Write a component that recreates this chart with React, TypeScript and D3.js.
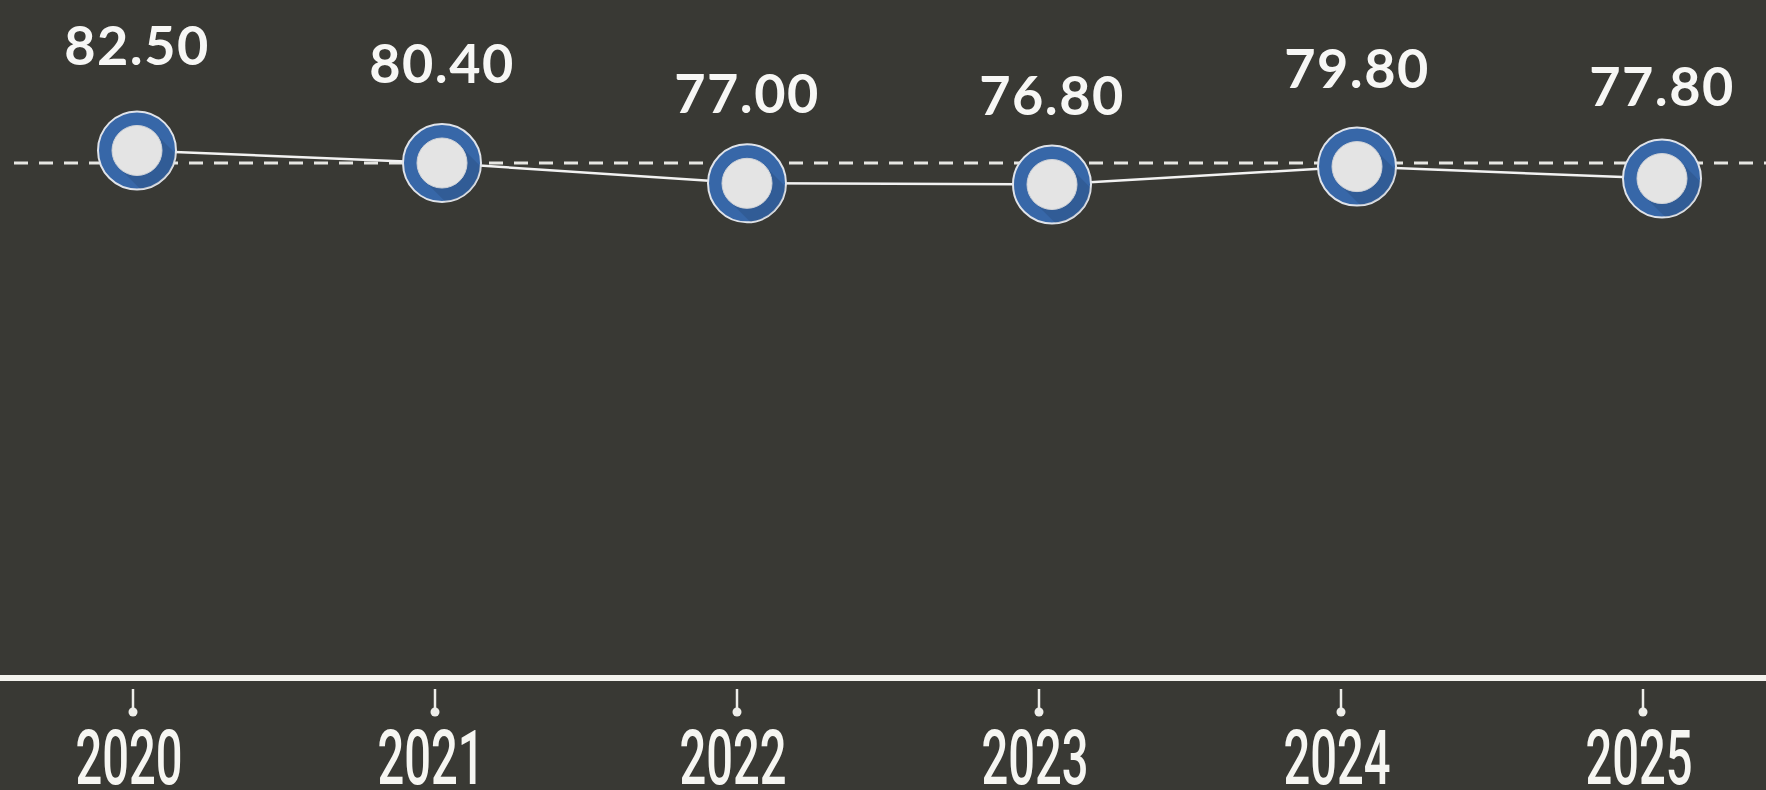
import React, { useEffect } from "react";
import * as d3 from "d3";

const years: string[] = ["2020", "2021", "2022", "2023", "2024", "2025"];
const values: number[] = [82.5, 80.4, 77.0, 76.8, 79.8, 77.8];
const valueLabels: string[] = ["82.50", "80.40", "77.00", "76.80", "79.80", "77.80"];
const referenceValue = 80.4;

const W = 1766;
const H = 790;

const BG = "#393934";
const BLUE = "#3767a8";
const LIGHT = "#e4e4e4";
const WHITE = "#f4f3ee";

export default function App() {
  useEffect(() => {
    document.body.style.margin = "0";
    document.body.style.background = BG;
  }, []);

  const xPoint = d3.scalePoint<string>().domain(years).range([137, 1662]);
  const xAxis = d3.scalePoint<string>().domain(years).range([133, 1643]);
  const yScale = d3.scaleLinear().domain([0, 100]).range([643, 46]);
  const labelScale = d3.scaleLinear().domain([0, 100]).range([789, -89]);

  const pts: [number, number][] = years.map((yr, i) => [xPoint(yr) as number, yScale(values[i])]);
  const line = d3.line<[number, number]>().x((d) => d[0]).y((d) => d[1]);

  const rOuter = 39;
  const rInner = 25;
  const axisY = 678;

  return (
    <svg
      width={W}
      height={H}
      style={{ position: "absolute", left: 0, top: 0, display: "block" }}
      xmlns="http://www.w3.org/2000/svg"
    >
      <rect x={0} y={0} width={W} height={H} fill={BG} />
      <defs>
        {pts.map((p, i) => (
          <clipPath id={`ring-${i}`} key={i}>
            <circle cx={p[0]} cy={p[1]} r={rOuter} />
          </clipPath>
        ))}
      </defs>

      {/* reference dashed line */}
      <line
        x1={14}
        x2={W}
        y1={yScale(referenceValue)}
        y2={yScale(referenceValue)}
        stroke="#e6e6e2"
        strokeWidth={3}
        strokeDasharray="14 11"
      />

      {/* connecting line */}
      <path d={line(pts) || ""} fill="none" stroke="#f2f2f2" strokeWidth={2.5} />

      {/* markers */}
      {pts.map((p, i) => (
        <g key={`m-${i}`}>
          <circle cx={p[0]} cy={p[1]} r={rOuter} fill={BLUE} stroke="#dfe3ea" strokeWidth={2} />
          <g clipPath={`url(#ring-${i})`}>
            <rect
              x={0}
              y={-rInner}
              width={90}
              height={rInner * 2}
              fill="#000"
              opacity={0.1}
              transform={`translate(${p[0]},${p[1]}) rotate(45)`}
            />
          </g>
          <circle cx={p[0]} cy={p[1]} r={rInner} fill={LIGHT} stroke="#d0d3d8" strokeWidth={1} />
        </g>
      ))}

      {/* value labels */}
      {pts.map((p, i) => (
        <text
          key={`l-${i}`}
          x={p[0]}
          y={labelScale(values[i])}
          textAnchor="middle"
          fontFamily="Lato, 'Open Sans', sans-serif"
          fontWeight={700}
          fontSize={54}
          letterSpacing={1.5}
          fill="#f7f7f5"
        >
          {valueLabels[i]}
        </text>
      ))}

      {/* axis line */}
      <rect x={0} y={axisY - 3} width={W} height={6} fill={WHITE} />

      {/* ticks and year labels */}
      {years.map((yr) => {
        const x = xAxis(yr) as number;
        return (
          <g key={`t-${yr}`}>
            <line x1={x} x2={x} y1={689} y2={710} stroke="#eeeeea" strokeWidth={2.5} />
            <circle cx={x} cy={712} r={4.5} fill="#eeeeea" />
            <text
              transform={`translate(${x - 4},784) scale(0.62,1)`}
              textAnchor="middle"
              fontFamily="Roboto, 'Open Sans', sans-serif"
              fontWeight={500}
              fontSize={76}
              fill="#f6f6f2"
            >
              {yr}
            </text>
          </g>
        );
      })}
    </svg>
  );
}
